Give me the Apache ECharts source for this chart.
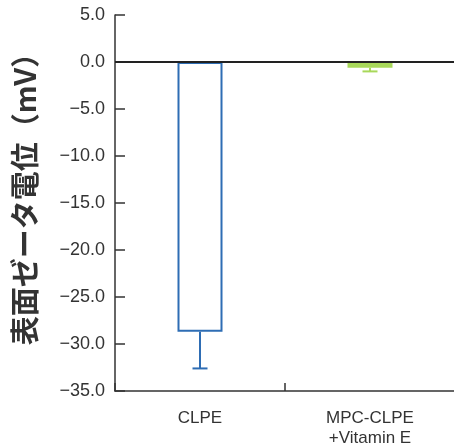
<!DOCTYPE html>
<html><head><meta charset="utf-8">
<script src="https://cdn.jsdelivr.net/npm/echarts@6/dist/echarts.min.js"></script>
<style>html,body{margin:0;padding:0;background:#fff}#c{width:454px;height:448px}</style>
</head><body><div id="c"></div>
<script>
const categories = ['CLPE', 'MPC-CLPE\n+Vitamin E'];
const values = [-28.7, -0.6];
const errorLow = [-32.6, -1.0];
const yTicks = [5, 0, -5, -10, -15, -20, -25, -30, -35];
const yName = '表面ゼータ電位（mV）';

const chart = echarts.init(document.getElementById('c'));
const fmt = v => (v < 0 ? '\u2212' : '') + Math.abs(v).toFixed(1);
chart.setOption({
  animation: false,
  grid: {left: 115, top: 15, width: 340, bottom: 57, containLabel: false, outerBoundsMode: 'none'},
  xAxis: {
    type: 'category', data: categories,
    axisLine: {onZero: false, lineStyle: {color: '#333', width: 1.5}},
    axisTick: {show: true, inside: true, length: 8, lineStyle: {color: '#333', width: 1.5}},
    axisLabel: {color: '#333', fontSize: 17, fontFamily: 'Liberation Sans', lineHeight: 20, margin: 17}
  },
  yAxis: {
    type: 'value', min: -35, max: 5, interval: 5,
    name: yName, nameLocation: 'middle', nameRotate: 90, nameGap: 76,
    nameTextStyle: {fontSize: 29, fontWeight: 'bold', color: '#333', fontFamily: 'Noto Sans CJK JP', padding: [0, 0, 0, 22]},
    axisLine: {show: true, lineStyle: {color: '#333', width: 1.5}},
    axisTick: {show: true, inside: true, length: 10, lineStyle: {color: '#333', width: 1.5}},
    splitLine: {show: false},
    axisLabel: {color: '#333', fontSize: 18, fontFamily: 'Liberation Sans', margin: 10, formatter: fmt}
  },
  series: [
    {
      type: 'bar', barWidth: 45,
      data: [
        {value: values[0], itemStyle: {color: '#fff', borderColor: '#2e6db4', borderWidth: 2}},
        {value: values[1], itemStyle: {color: '#a8d85a', borderColor: '#a8d85a', borderWidth: 0}}
      ],
      markLine: {
        silent: true, symbol: 'none', label: {show: false},
        lineStyle: {color: '#222', width: 2, type: 'solid'},
        data: [{yAxis: 0}]
      },
      z: 2
    },
    {
      type: 'custom',
      data: values.map((v, i) => [i, v, errorLow[i]]),
      renderItem: function (params, api) {
        const i = api.value(0);
        const p1 = api.coord([i, api.value(1)]);
        const p2 = api.coord([i, api.value(2)]);
        const col = i === 0 ? '#2e6db4' : '#a8d85a';
        const hw = 7.5;
        return {
          type: 'group',
          children: [
            {type: 'line', shape: {x1: p1[0], y1: p1[1], x2: p2[0], y2: p2[1]}, style: {stroke: col, lineWidth: 2}},
            {type: 'line', shape: {x1: p2[0] - hw, y1: p2[1], x2: p2[0] + hw, y2: p2[1]}, style: {stroke: col, lineWidth: 2}}
          ]
        };
      },
      z: 3
    }
  ]
});
</script></body></html>
